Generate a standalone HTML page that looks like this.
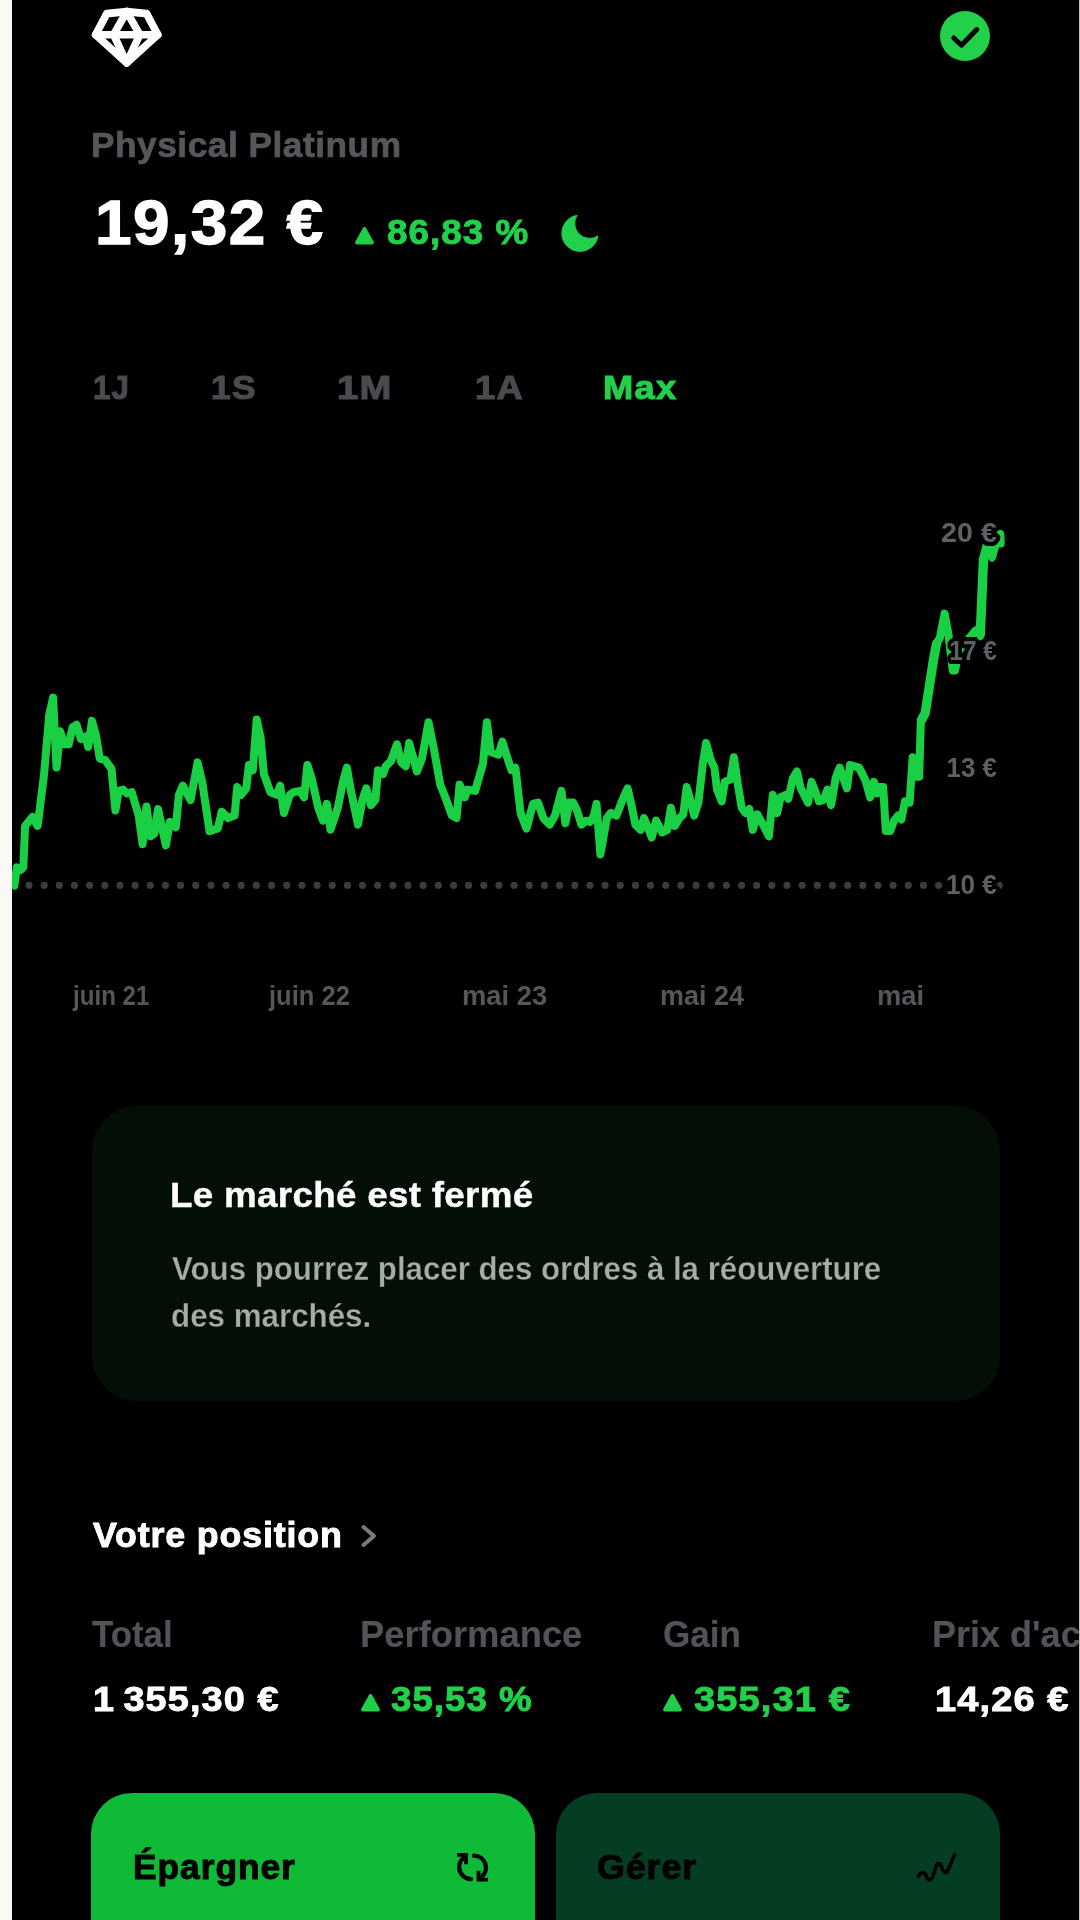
<!DOCTYPE html>
<html lang="fr">
<head>
<meta charset="utf-8">
<title>Physical Platinum</title>
<style>
  html, body { margin: 0; padding: 0; }
  body {
    width: 1080px; height: 1920px; overflow: hidden; position: relative;
    background: #faf9f5;
    font-family: "Liberation Sans", sans-serif;
  }
  #screen {
    position: absolute; left: 12px; top: 0; width: 1067px; height: 1920px;
    background: #000; overflow: hidden;
  }
  #edge { position: absolute; left: 1079px; top: 0; width: 1px; height: 1920px; background: #bdbdbd; }
  /* every text item is absolutely placed in page coordinates (relative to #page) */
  #page { position: absolute; left: -12px; top: 0; width: 1080px; height: 1920px; will-change: transform; }
  .t { position: absolute; white-space: nowrap; line-height: 1; margin: 0; }
  .b { font-weight: 700; }
  .m { font-weight: 700; }
  .yl { text-shadow: 4.00px 0.00px 0.5px #000, 3.90px 0.89px 0.5px #000, 3.60px 1.74px 0.5px #000, 3.13px 2.49px 0.5px #000, 2.49px 3.13px 0.5px #000, 1.74px 3.60px 0.5px #000, 0.89px 3.90px 0.5px #000, 0.00px 4.00px 0.5px #000, -0.89px 3.90px 0.5px #000, -1.74px 3.60px 0.5px #000, -2.49px 3.13px 0.5px #000, -3.13px 2.49px 0.5px #000, -3.60px 1.74px 0.5px #000, -3.90px 0.89px 0.5px #000, -4.00px 0.00px 0.5px #000, -3.90px -0.89px 0.5px #000, -3.60px -1.74px 0.5px #000, -3.13px -2.49px 0.5px #000, -2.49px -3.13px 0.5px #000, -1.74px -3.60px 0.5px #000, -0.89px -3.90px 0.5px #000, -0.00px -4.00px 0.5px #000, 0.89px -3.90px 0.5px #000, 1.74px -3.60px 0.5px #000, 2.49px -3.13px 0.5px #000, 3.13px -2.49px 0.5px #000, 3.60px -1.74px 0.5px #000, 3.90px -0.89px 0.5px #000, 2.80px 0.00px 0.5px #000, 2.63px 0.96px 0.5px #000, 2.14px 1.80px 0.5px #000, 1.40px 2.42px 0.5px #000, 0.49px 2.76px 0.5px #000, -0.49px 2.76px 0.5px #000, -1.40px 2.42px 0.5px #000, -2.14px 1.80px 0.5px #000, -2.63px 0.96px 0.5px #000, -2.80px 0.00px 0.5px #000, -2.63px -0.96px 0.5px #000, -2.14px -1.80px 0.5px #000, -1.40px -2.42px 0.5px #000, -0.49px -2.76px 0.5px #000, 0.49px -2.76px 0.5px #000, 1.40px -2.42px 0.5px #000, 2.14px -1.80px 0.5px #000, 2.63px -0.96px 0.5px #000, 1.50px 0.00px 0.5px #000, 1.21px 0.88px 0.5px #000, 0.46px 1.43px 0.5px #000, -0.46px 1.43px 0.5px #000, -1.21px 0.88px 0.5px #000, -1.50px 0.00px 0.5px #000, -1.21px -0.88px 0.5px #000, -0.46px -1.43px 0.5px #000, 0.46px -1.43px 0.5px #000, 1.21px -0.88px 0.5px #000; }
  .g { color: #22d04a; }
  .w { color: #fff; }
  svg { position: absolute; overflow: visible; }
</style>
</head>
<body>
<div id="screen">
<div id="page">

<!-- HEADER -->
<svg id="gem" style="left:90px;top:6px" width="74" height="64" viewBox="90 6 74 64">
  <g fill="none" stroke="#fff" stroke-width="7.6" stroke-linejoin="round" stroke-linecap="round">
    <path d="M106.8 13.6 L126.7 11.6 L146.6 13.6 L157.8 34.7 L126.7 63 L95.6 34.7 Z"/>
    <path d="M95.6 34.7 H157.8"/>
    <path d="M126.7 11.6 L113.6 34.7 L126.7 63 L139.8 34.7 Z"/>
  </g>
</svg>

<svg id="check" style="left:940.2px;top:11.4px" width="50" height="50" viewBox="0 0 50 50">
  <circle cx="25" cy="25" r="25" fill="#22d04a"/>
  <path d="M13.8 27 L21.4 34.2 L36.8 18.6" fill="none" stroke="#000" stroke-width="5" stroke-linecap="round" stroke-linejoin="round"/>
</svg>

<div class="t b" id="name" style="left:91.2px;top:127.50px;font-size:34.6px;color:#56565b;-webkit-text-stroke-width:0.7px;letter-spacing:0.5px;transform:scaleX(1.020);transform-origin:left">Physical Platinum</div>
<div class="t b w" id="price" style="left:94.5px;top:191.70px;font-size:62.1px;-webkit-text-stroke-width:1.3px;letter-spacing:1.4px;transform:scaleX(1.058);transform-origin:left">19,32 €</div>

<svg id="tri1" style="left:354px;top:226px" width="21" height="20" viewBox="0 0 21 20">
  <path d="M10.5 2.9 L18.1 16.7 H2.9 Z" fill="#1fcf47" stroke="#1fcf47" stroke-width="3.6" stroke-linejoin="round"/>
</svg>
<div class="t b g" id="pct" style="left:386.9px;top:214.65px;font-size:34.9px;-webkit-text-stroke-width:0.9px;letter-spacing:1.0px;transform:scaleX(1.054);transform-origin:left">86,83 %</div>
<svg id="moon" style="left:561px;top:214px" width="40" height="40" viewBox="0 0 40 40">
  <path d="M16.2 1.3 A18.2 18.2 0 1 0 37 21.8 A14.9 14.9 0 0 1 16.2 1.3 Z" fill="#22d14b" stroke="#22d14b" stroke-width="0.8" stroke-linejoin="round"/>
</svg>

<!-- RANGE TABS -->
<div class="t b" id="t1" style="left:93.3px;top:370.20px;font-size:34.0px;color:#4a4a4f;-webkit-text-stroke-width:1.1px;letter-spacing:1.2px;transform:scaleX(0.919);transform-origin:left">1J</div>
<div class="t b" id="t2" style="left:210.5px;top:370.20px;font-size:34.0px;color:#4a4a4f;-webkit-text-stroke-width:1.1px;letter-spacing:1.2px;transform:scaleX(1.042);transform-origin:left">1S</div>
<div class="t b" id="t3" style="left:336.5px;top:370.20px;font-size:34.0px;color:#4a4a4f;-webkit-text-stroke-width:1.1px;letter-spacing:1.2px;transform:scaleX(1.124);transform-origin:left">1M</div>
<div class="t b" id="t4" style="left:474.6px;top:370.20px;font-size:34.0px;color:#4a4a4f;-webkit-text-stroke-width:1.1px;letter-spacing:1.2px;transform:scaleX(1.066);transform-origin:left">1A</div>
<div class="t b g" id="t5" style="left:603.3px;top:370.20px;font-size:34.0px;-webkit-text-stroke-width:1.1px;letter-spacing:1.2px;transform:scaleX(1.066);transform-origin:left">Max</div>

<!-- CHART -->
<svg id="chart" style="left:0;top:480px" width="1080" height="440" viewBox="0 480 1080 440">
  <g>
  <line id="dots" x1="29" y1="885.3" x2="1000" y2="885.3" stroke="#3c3c3e" stroke-width="7.2" stroke-linecap="round" stroke-dasharray="0 15.16"/>
  <path id="line" fill="none" stroke="#19d045" stroke-width="8" stroke-linejoin="round" stroke-linecap="round" d="M14.3 885.6 L16.9 867.4 L20.7 870.0 L23.3 867.4 L25.1 825.9 L32.4 816.9 L37.6 825.9 L44.1 774.1 L49.3 714.4 L53.1 697.6 L56.5 767.6 L60.1 731.3 L64.8 744.3 L68.7 744.3 L72.6 727.4 L76.5 724.8 L80.9 739.1 L85.6 736.5 L88.1 746.9 L92.0 720.9 L95.9 735.2 L99.8 758.5 L105.0 759.8 L111.5 768.9 L115.4 810.4 L118.7 790.9 L123.1 789.6 L127.0 793.5 L131.7 792.2 L138.7 815.6 L142.6 844.1 L146.5 806.5 L150.4 836.3 L154.3 833.7 L158.1 809.1 L165.9 845.4 L169.8 822.0 L175.8 827.2 L178.9 794.8 L182.8 785.7 L190.6 800.0 L197.6 762.4 L202.2 781.9 L209.5 831.1 L217.8 828.5 L221.7 811.7 L228.1 818.1 L234.6 815.6 L237.2 787.0 L241.1 794.8 L246.3 788.3 L248.9 765.0 L252.8 770.2 L256.7 719.6 L260.6 737.8 L263.9 774.1 L270.4 792.2 L276.9 794.8 L280.2 785.7 L283.9 813.0 L289.8 794.8 L293.7 792.2 L300.2 790.9 L304.1 797.4 L307.4 765.0 L311.9 779.3 L318.3 807.8 L323.0 820.7 L326.9 803.9 L330.5 829.8 L337.8 807.8 L343.0 781.9 L346.9 767.6 L350.7 789.6 L358.0 824.6 L362.4 800.0 L366.3 788.3 L371.0 805.2 L375.4 800.0 L378.0 770.2 L383.1 774.1 L385.7 766.3 L390.9 761.1 L396.9 744.3 L401.3 762.4 L405.7 766.3 L409.1 743.0 L413.5 758.5 L416.9 771.5 L422.0 758.5 L428.5 722.2 L433.7 748.1 L440.2 784.4 L445.4 797.4 L451.9 815.6 L456.5 818.1 L459.6 784.4 L464.8 797.4 L467.4 789.6 L475.2 790.9 L483.0 763.7 L486.9 722.2 L490.7 752.0 L498.5 754.6 L502.4 741.7 L506.3 754.6 L511.5 770.2 L515.4 767.6 L520.6 813.0 L526.5 828.5 L533.0 803.9 L538.1 802.6 L543.3 818.1 L549.8 824.6 L555.0 815.6 L561.5 790.9 L565.4 823.3 L569.3 802.6 L573.1 802.6 L577.0 810.4 L581.4 824.6 L586.1 820.7 L590.0 822.0 L593.9 815.6 L596.5 803.9 L600.4 854.4 L606.9 818.1 L610.7 813.0 L616.4 815.6 L622.4 800.0 L627.6 788.3 L631.5 805.2 L635.4 824.6 L640.6 829.8 L643.9 818.1 L648.3 828.5 L651.7 837.6 L656.1 820.7 L662.1 832.4 L667.3 829.8 L670.9 807.8 L674.8 825.9 L679.4 818.1 L683.3 814.3 L686.7 787.0 L691.1 802.6 L694.2 815.6 L698.4 802.6 L702.8 763.7 L706.1 743.0 L710.6 759.8 L714.4 767.6 L717.0 789.6 L721.7 801.3 L724.8 781.9 L730.5 779.3 L733.9 757.2 L737.8 784.4 L741.7 807.8 L745.6 813.0 L749.4 809.1 L752.8 829.8 L757.2 814.3 L763.7 825.9 L768.9 836.3 L772.8 794.8 L777.2 813.0 L780.6 797.4 L785.7 794.8 L788.3 798.7 L793.0 778.0 L796.9 771.5 L800.7 788.3 L808.0 802.6 L811.6 781.9 L818.9 801.3 L823.6 800.0 L827.4 789.6 L831.1 805.2 L835.7 778.0 L839.6 767.6 L846.9 788.3 L850.0 765.0 L859.1 767.6 L865.6 780.6 L870.2 797.4 L873.9 781.9 L877.2 793.5 L879.3 787.0 L883.2 787.0 L885.8 831.1 L890.2 831.1 L894.1 820.7 L898.0 815.6 L901.3 819.4 L905.0 801.3 L909.6 802.6 L912.7 757.2 L915.3 776.7 L919.2 776.7 L920.8 722.2 L925.2 713.1 L933.4 660.2 L936.9 642.5 L939.8 638.2 L944.6 613.6 L948.4 634 L952.8 670.5 L955 670.5 L959.2 650 L975.5 630.5 L980.2 636.2 L983.6 557 L986.5 545.5 L992 557.5 L996.5 541.5 L1000.3 533.8 L1000.7 543.5"/>
  <path id="line2" fill="none" stroke="#19d045" stroke-width="9.4" stroke-linejoin="round" stroke-linecap="round" d="M921.5 720 L925.2 713.1 L933.4 660.2 L936.5 644 M980.3 634 L983.5 559"/>
  </g>
</svg>

<!-- CHART LABELS -->
<div class="t m yl" id="y20" style="right:83.0px;top:517.90px;font-size:28.2px;color:#5f6065;transform:scaleX(1.016);transform-origin:right">20 €</div>
<div class="t m yl" id="y17" style="right:83.0px;top:635.70px;font-size:28.2px;color:#5f6065;transform:scaleX(0.866);transform-origin:right">17 €</div>
<div class="t m yl" id="y13" style="right:83.0px;top:752.50px;font-size:28.2px;color:#5f6065;transform:scaleX(0.917);transform-origin:right">13 €</div>
<div class="t m yl" id="y10" style="right:83.0px;top:870.20px;font-size:28.2px;color:#5f6065;transform:scaleX(0.927);transform-origin:right">10 €</div>

<div class="t m" id="x1" style="left:72.9px;top:982.40px;font-size:27.2px;color:#56565b;transform:scaleX(0.887);transform-origin:left">juin 21</div>
<div class="t m" id="x2" style="left:268.7px;top:982.40px;font-size:27.2px;color:#56565b;transform:scaleX(0.939);transform-origin:left">juin 22</div>
<div class="t m" id="x3" style="left:462.0px;top:982.40px;font-size:27.2px;color:#56565b;transform:scaleX(1.006);transform-origin:left">mai 23</div>
<div class="t m" id="x4" style="left:659.9px;top:982.40px;font-size:27.2px;color:#56565b;transform:scaleX(0.991);transform-origin:left">mai 24</div>
<div class="t m" id="x5" style="left:876.9px;top:982.40px;font-size:27.2px;color:#56565b;transform:scaleX(1.003);transform-origin:left">mai</div>

<!-- MARKET CLOSED CARD -->
<div id="card" style="position:absolute;left:91.6px;top:1105.7px;width:908.7px;height:295px;border-radius:45px;background:#020e06"></div>
<div class="t b w" id="ctitle" style="left:170.0px;top:1177.60px;font-size:34.3px;-webkit-text-stroke-width:0.4px;letter-spacing:0.3px;transform:scaleX(1.071);transform-origin:left">Le marché est fermé</div>
<div class="t m" id="cb1" style="left:172.0px;top:1252.80px;font-size:32.4px;color:#a4aea6;-webkit-text-stroke:0.3px #020e06;transform:scaleX(0.964);transform-origin:left">Vous pourrez placer des ordres à la réouverture</div>
<div class="t m" id="cb2" style="left:171.1px;top:1300.40px;font-size:32.4px;color:#a4aea6;-webkit-text-stroke:0.3px #020e06;transform:scaleX(0.967);transform-origin:left">des marchés.</div>

<!-- POSITION -->
<div class="t b w" id="pos" style="left:93.0px;top:1517.55px;font-size:34.3px;-webkit-text-stroke-width:0.9px;letter-spacing:0.8px;transform:scaleX(1.044);transform-origin:left">Votre position</div>
<svg id="chev" style="left:358px;top:1522px" width="22" height="28" viewBox="0 0 22 28">
  <path d="M5.5 5 L16 14 L5.5 23" fill="none" stroke="#7a7a80" stroke-width="4" stroke-linecap="round" stroke-linejoin="round"/>
</svg>

<div class="t m" id="l1" style="left:92.0px;top:1616.65px;font-size:36.2px;color:#525358;-webkit-text-stroke-width:0.15px;transform:scaleX(0.963);transform-origin:left">Total</div>
<div class="t m" id="l2" style="left:360.0px;top:1616.65px;font-size:36.2px;color:#525358;-webkit-text-stroke-width:0.15px;transform:scaleX(1.005);transform-origin:left">Performance</div>
<div class="t m" id="l3" style="left:663.4px;top:1616.65px;font-size:36.2px;color:#525358;-webkit-text-stroke-width:0.15px;transform:scaleX(0.969);transform-origin:left">Gain</div>
<div class="t m" id="l4" style="left:932.4px;top:1616.65px;font-size:36.2px;color:#525358;-webkit-text-stroke-width:0.15px;transform:scaleX(0.995);transform-origin:left">Prix d'achat</div>

<div class="t b w" id="v1" style="left:93.1px;top:1681.50px;font-size:34.4px;-webkit-text-stroke-width:0.9px;letter-spacing:1.0px;transform:scaleX(1.100);transform-origin:left">1<span style="letter-spacing:-2px"> </span>355,30 €</div>
<svg id="tri2" style="left:360px;top:1693px" width="21" height="20" viewBox="0 0 21 20">
  <path d="M10.5 2.9 L18.1 16.7 H2.9 Z" fill="#1fcf47" stroke="#1fcf47" stroke-width="3.6" stroke-linejoin="round"/>
</svg>
<div class="t b g" id="v2" style="left:391.1px;top:1681.50px;font-size:34.4px;-webkit-text-stroke-width:0.9px;letter-spacing:1.0px;transform:scaleX(1.064);transform-origin:left">35,53 %</div>
<svg id="tri3" style="left:662px;top:1693px" width="21" height="20" viewBox="0 0 21 20">
  <path d="M10.5 2.9 L18.1 16.7 H2.9 Z" fill="#1fcf47" stroke="#1fcf47" stroke-width="3.6" stroke-linejoin="round"/>
</svg>
<div class="t b g" id="v3" style="left:694.3px;top:1681.50px;font-size:34.4px;-webkit-text-stroke-width:0.9px;letter-spacing:1.0px;transform:scaleX(1.106);transform-origin:left">355,31 €</div>
<div class="t b w" id="v4" style="left:934.6px;top:1681.50px;font-size:34.4px;-webkit-text-stroke-width:0.9px;letter-spacing:1.0px;transform:scaleX(1.105);transform-origin:left">14,26 €</div>

<!-- BUTTONS -->
<div id="btn1" style="position:absolute;left:91.4px;top:1793.3px;width:444px;height:200px;border-radius:41px;background:#0fbb36"></div>
<div class="t b" id="bt1" style="left:132.5px;top:1849.80px;font-size:34.4px;color:#000;-webkit-text-stroke-width:1.0px;letter-spacing:0.9px;transform:scaleX(1.029);transform-origin:left">Épargner</div>
<svg id="sync" style="left:457px;top:1853px" width="31" height="29" viewBox="0 0 31 29">
  <g fill="none" stroke="#000" stroke-width="3.8">
    <path d="M0 1.9 H9.1 V11.3"/>
    <path d="M7 4.5 A12 12 0 0 0 14 26.1" stroke-linecap="round" stroke-width="4.4"/>
    <path d="M31 26.7 H21.5 V17.8"/>
    <path d="M17 2.6 A12 12 0 0 1 24 24.3" stroke-linecap="round" stroke-width="4.4"/>
  </g>
</svg>

<div id="btn2" style="position:absolute;left:556.2px;top:1793.3px;width:443.4px;height:200px;border-radius:41px;background:#043d22"></div>
<div class="t b" id="bt2" style="left:597.0px;top:1849.60px;font-size:34.4px;color:#000;-webkit-text-stroke-width:1.0px;letter-spacing:0.9px;transform:scaleX(1.039);transform-origin:left">Gérer</div>
<svg id="squig" style="left:914px;top:1850px" width="46" height="36" viewBox="914 1850 46 36">
  <path d="M918.5 1876.5 C920 1872 924.5 1871 926 1875.5 C927.5 1880.5 931 1882 933 1876 L936 1866.5 C937.5 1862 940 1863 941.5 1867 C943 1871.5 946 1875.5 948 1870 L954.8 1854.6" fill="none" stroke="#000" stroke-width="3.6" stroke-linecap="round" stroke-linejoin="round"/>
</svg>

</div>
</div>
<div id="edge"></div>
</body>
</html>
